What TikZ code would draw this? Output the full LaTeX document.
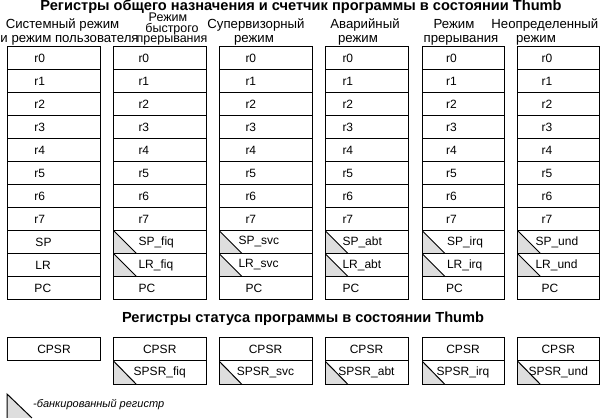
\documentclass[tikz,border=0pt]{standalone}
\usepackage{fontspec}
\setmainfont{Liberation Sans}
\definecolor{bankgray}{RGB}{222,222,222}
\newcommand\regcolumn[7]{%
  \foreach \lab [count=\k from 0] in {r0,r1,r2,r3,r4,r5,r6,r7}
    \node[cell, text width=#3pt] (#1-\lab) at (#2, {46+23*\k}) {\hspace*{#4pt}\lab};
  \node[cell, #7, text width=#3pt] (#1-SP) at (#2, 230) {\hspace*{#5pt}SP#6};
  \node[cell, #7, text width=#3pt] (#1-LR) at (#2, 253) {\hspace*{#5pt}LR#6};
  \node[cell, text width=#3pt] (#1-PC) at (#2, 276) {\hspace*{#4pt}PC};
}
\begin{document}
\begin{tikzpicture}[x=1pt,y=-1pt,
  cell/.style={draw, line width=1pt, rectangle, inner xsep=0pt, inner ysep=0pt,
    minimum height=23pt, align=left, anchor=north west,
    font=\fontsize{12}{14}\selectfont},
  statcell/.style={cell, align=center, minimum height=23.5pt},
  plain/.style={},
  bank/.style={path picture={
    \fill[bankgray] (path picture bounding box.north west) -- (path picture bounding box.south west)
      -- ([xshift=23pt]path picture bounding box.south west) -- cycle;
    \draw[line width=1pt] (path picture bounding box.north west) -- ([xshift=23pt]path picture bounding box.south west);}},
  head/.style={anchor=base, inner sep=0pt, font=\fontsize{13.2}{15}\selectfont},
  headsmall/.style={anchor=base, inner sep=0pt, font=\fontsize{12.5}{14}\selectfont},
  title/.style={anchor=base, inner sep=0pt, font=\fontsize{14.6}{16}\selectfont\bfseries},
  legend/.style={anchor=base west, inner sep=0pt, font=\fontsize{11}{13}\selectfont\itshape}
  ]
\useasboundingbox (0,0) rectangle (600,419);

% titles
\node[title] (t1) at (301,10.5) {Регистры общего назначения и счетчик программы в состоянии Thumb};
\node[title] (t2) at (303,322.5) {Регистры статуса программы в состоянии Thumb};

% column headers
\node[head] (h1a) at (62.5,28.3) {Системный режим};
\node[head, anchor=base west] (h1b) at (0.3,42.5) {и режим пользователя};
\node[headsmall] (h2a) at (168,22) {Режим};
\node[headsmall] (h2b) at (172,32.2) {быстрого};
\node[headsmall] (h2c) at (172,42.5) {прерывания};
\node[head] (h3a) at (256,28.3) {Супервизорный};
\node[head] (h3b) at (254,42.5) {режим};
\node[head] (h4a) at (365,28.3) {Аварийный};
\node[head] (h4b) at (358,42.5) {режим};
\node[head] (h5a) at (454,28.3) {Режим};
\node[head] (h5b) at (461,42.5) {прерывания};
\node[head, anchor=base east] (h6a) at (598.5,28.3) {Неопределенный};
\node[head] (h6b) at (536,42.5) {режим};

% register columns
\regcolumn{c1}{7}{93}{27}{28}{}{plain}
\regcolumn{c2}{113}{92.5}{25}{25}{\_fiq}{bank}
\regcolumn{c3}{218.5}{93}{26.5}{19.5}{\_svc}{bank}
\regcolumn{c4}{324.5}{83}{17.5}{17.5}{\_abt}{bank}
\regcolumn{c5}{421.5}{82}{24}{25}{\_irq}{bank}
\regcolumn{c6}{517}{81.5}{24}{18}{\_und}{bank}

% status registers
\node[statcell, text width=93pt] (s1) at (7,337) {CPSR};
\node[statcell, text width=92.5pt] (s2) at (113,337) {CPSR};
\node[statcell, bank, text width=92.5pt] (s2b) at (113,360.5) {SPSR\_fiq};
\node[statcell, text width=93pt] (s3) at (218.5,337) {CPSR};
\node[statcell, bank, text width=93pt] (s3b) at (218.5,360.5) {SPSR\_svc};
\node[statcell, text width=83pt] (s4) at (324.5,337) {CPSR};
\node[statcell, bank, text width=83pt] (s4b) at (324.5,360.5) {SPSR\_abt};
\node[statcell, text width=82pt] (s5) at (421.5,337) {CPSR};
\node[statcell, bank, text width=82pt] (s5b) at (421.5,360.5) {SPSR\_irq};
\node[statcell, text width=81.5pt] (s6) at (517,337) {CPSR};
\node[statcell, bank, text width=81.5pt] (s6b) at (517,360.5) {SPSR\_und};

% legend
\fill[bankgray] (7,394) -- (7,418) -- (32,418) -- cycle;
\draw[line width=1pt] (7,418) -- (7,394) -- (32,418);
\node[legend] (leg) at (33,408) {-банкированный регистр};
\end{tikzpicture}
\end{document}
